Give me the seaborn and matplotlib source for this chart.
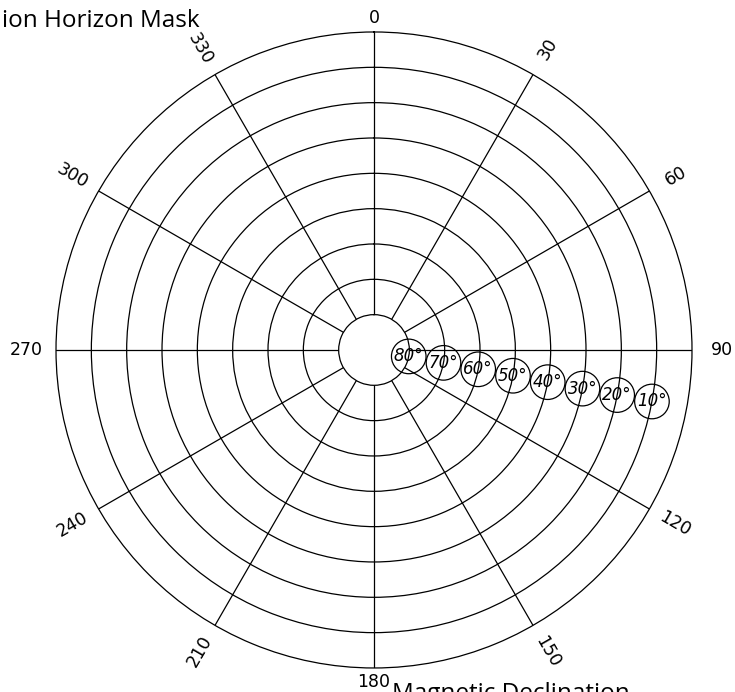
import numpy as np
import pandas as pd
import matplotlib

matplotlib.use("Agg")
import matplotlib.pyplot as plt
import seaborn as sns

# azimuth spokes, clockwise from north
azimuths = [0, 30, 60, 90, 120, 150, 180, 210, 240, 270, 300, 330]
azimuth_labels = ["0", "30", "60", "90", "120", "150", "180", "210", "240", "270", "300", "330"]

# elevation rings from the centre hole out to the horizon
elevations = [80, 70, 60, 50, 40, 30, 20, 10]
elevation_labels = ["80°", "70°", "60°", "50°", "40°", "30°", "20°", "10°"]

LABEL_BEARING = 100.5  # direction along which the ring labels sit
CAD_FONT = ["Liberation Sans Narrow", "DejaVu Sans"]
LW = 0.9

sns.set_theme(style="white")
plt.rcParams["font.family"] = ["DejaVu Sans"]
plt.rcParams["text.color"] = "black"

fig = plt.figure(figsize=(7.35, 6.92), dpi=100)
ax = fig.add_axes([0.0762, 0.0347, 0.8653, 0.9191], projection="polar")
ax.set_theta_zero_location("N")
ax.set_theta_direction(-1)
ax.set_rlim(10, 90)
ax.set_rorigin(0)

# radius = zenith distance (90 - elevation)
ax.set_xticks(np.radians(azimuths))
ax.set_xticklabels([])
ax.set_yticks([90 - e for e in elevations if e < 80])
ax.set_yticklabels([])
ax.tick_params(length=0)
ax.grid(True, color="black", linewidth=LW, linestyle="-")
for spine in ax.spines.values():
    spine.set_color("black")
    spine.set_linewidth(LW)

# azimuth labels outside the horizon ring
for az, lab in zip(azimuths, azimuth_labels):
    if az % 90 == 0:
        rot = 0
        r = 94 if az in (0, 180) else 98.5
    else:
        rot = (90 - az) % 180
        if rot > 90:
            rot -= 180
        r = 98.5
    ax.text(np.radians(az), r, lab, rotation=rot, ha="center", va="center",
            rotation_mode="anchor", fontsize=12.5, family=CAD_FONT,
            color="black", clip_on=False)

# circled elevation labels
df = pd.DataFrame({
    "theta": np.radians(np.full(len(elevations), LABEL_BEARING)),
    "r": 90 - np.array(elevations),
    "label": elevation_labels,
})
sns.scatterplot(data=df, x="theta", y="r", ax=ax, s=620, marker="o",
                facecolor="none", edgecolor="black", linewidth=LW,
                legend=False, clip_on=False, zorder=5)
for _, row in df.iterrows():
    ax.text(row["theta"], row["r"], row["label"], ha="center", va="center",
            fontsize=12, style="italic", family=CAD_FONT, color="black",
            zorder=6)
ax.set_xlabel("")
ax.set_ylabel("")

fig.text(0.003, 1 - 27 / 692, "ion Horizon Mask", fontsize=17.5,
         family=["Open Sans", "DejaVu Sans"], va="baseline", ha="left",
         color="black")
fig.text(392 / 735, 1 - 682 / 692, "Magnetic Declination", fontsize=17.5,
         family=["Open Sans", "DejaVu Sans"], va="top", ha="left",
         color="black")

fig.savefig("out.png", dpi=100)
